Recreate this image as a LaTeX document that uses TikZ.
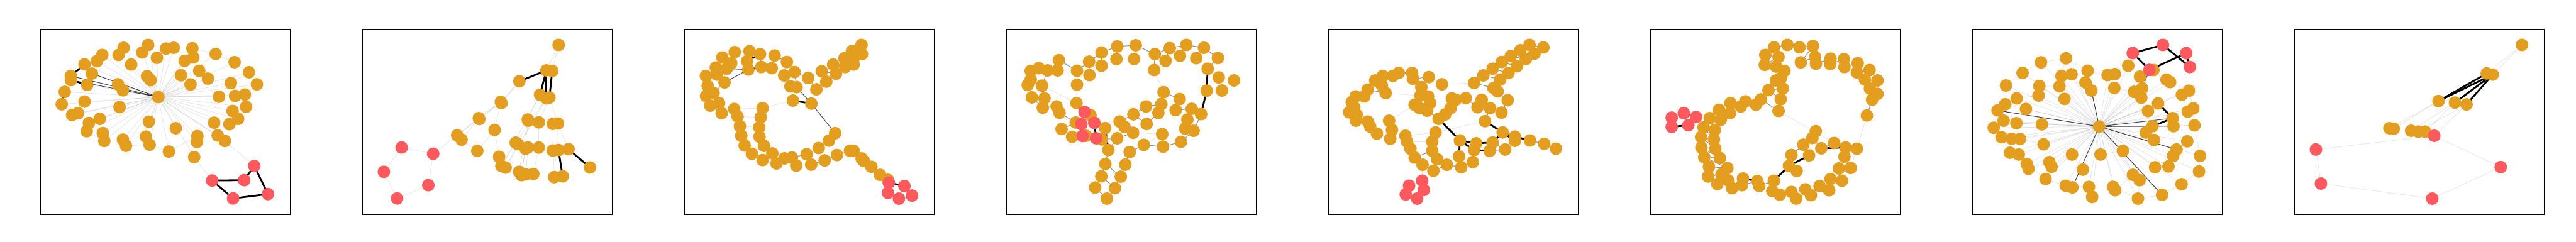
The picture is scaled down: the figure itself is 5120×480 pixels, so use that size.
\documentclass[tikz,border=0pt]{standalone}
\definecolor{myor}{RGB}{227,158,32}
\definecolor{myred}{RGB}{255,88,93}
\pgfdeclarelayer{back}
\pgfdeclarelayer{edges}
\pgfsetlayers{back,edges,main}
\tikzset{
 onode/.style={circle,fill=myor,inner sep=0pt,minimum size=25pt},
 rnode/.style={circle,fill=myred,inner sep=0pt,minimum size=25pt},
 lg/.style={draw=black,draw opacity=0.1,line width=1pt},
 mg/.style={draw=black,draw opacity=0.45,line width=1.3pt},
 dg/.style={draw=black,draw opacity=0.7,line width=1.3pt},
 bk/.style={draw=black,line width=3.5pt},
 frm/.style={draw=black,line width=1.1pt},
 panel/.style={x=0.3333pt,y=-0.3333pt}
}
\begin{document}
\begin{tikzpicture}
\begin{pgfonlayer}{back}
\fill[white] (0,0) rectangle (5120pt,-480pt);
\end{pgfonlayer}
\useasboundingbox (0,0) rectangle (5120pt,-480pt);
% ---------------- Panel 1
\begin{scope}[shift={(70pt,-45pt)},panel]
\draw[frm] (32,41) rectangle (1519,1147);
\foreach \x/\y [count=\i] in {527/150, 497/193, 673/133, 638/178, 780/155, 826/150, 726/210, 937/153, 943/208, 891/228, 1076/187, 1189/236, 1275/296, 1322/368, 400/193, 368/230, 294/249, 572/250, 338/304, 212/318, 213/343, 667/320, 688/343, 869/314, 978/287, 1030/334, 926/369, 1167/361, 310/371, 494/368, 523/404, 176/413, 734/444, 1096/442, 1192/437, 1250/429, 1257/502, 158/487, 294/471, 503/504, 1177/527, 220/551, 255/540, 385/574, 320/599, 1210/574, 1067/597, 1158/606, 678/591, 307/648, 403/659, 412/706, 838/630, 523/698, 541/735, 660/680, 682/728, 967/677, 964/712, 1088/673, 1131/706, 797/769, 948/802}
  \node[onode] (A\i) at (\x,\y) {};
\foreach \x/\y [count=\i] in {1306/855, 1055/942, 1246/940, 1388/1023, 1180/1049}
  \node[rnode] (Ar\i) at (\x,\y) {};
\begin{pgfonlayer}{edges}
\foreach \i in {1,...,32,34,35,...,63} \draw[lg] (A33.center) -- (A\i.center);
\foreach \a/\b in {3/5,5/6,6/8,8/11,11/12,12/13,13/14,2/15,15/17,1/4,28/13,36/14,47/60,58/62,62/57,55/57,50/52,42/45,38/42,60/61,14/37,37/46,63/r2,61/r1}
  \draw[lg] (A\a.center) -- (A\b.center);
\foreach \a/\b in {20/33,21/33,19/33} \draw[dg] (A\a.center) -- (A\b.center);
\foreach \a/\b in {17/20,21/29,32/38,r2/r3,r3/r1,r1/r4,r4/r5,r5/r2}
  \draw[bk] (A\a.center) -- (A\b.center);
\end{pgfonlayer}
\end{scope}
% ---------------- Panel 2
\begin{scope}[shift={(710pt,-45pt)},panel]
\draw[frm] (32,41) rectangle (1519,1147);
\foreach \x/\y [count=\i] in {1201/133, 1128/285, 1163/288, 967/350, 1090/430, 1128/452, 1146/447, 856/473, 860/480, 725/570, 728/575, 1017/578, 1020/585, 1083/595, 1166/604, 1197/602, 596/672, 622/698, 819/640, 945/716, 958/725, 1018/745, 1003/752, 1083/745, 1166/763, 1200/760, 1260/755, 716/765, 846/800, 860/855, 885/865, 966/890, 980/910, 1005/905, 1050/903, 1175/922, 1225/917, 1388/864}
  \node[onode] (B\i) at (\x,\y) {};
\foreach \x/\y [count=\i] in {265/745, 453/782, 424/970, 238/1049, 159/890}
  \node[rnode] (Br\i) at (\x,\y) {};
\begin{pgfonlayer}{edges}
\foreach \a/\b in {r1/r2,r2/r3,r3/r4,r4/r5,r5/r1,r2/17,17/10,18/10,10/8,11/9,8/4,9/4,1/2,1/3,18/28,28/19,19/8,19/29,5/12,5/30,6/20,6/31,7/14,7/16,12/22,12/32,13/33,14/24,24/35,15/25,16/36,15/36,16/27,20/30,21/31,22/34,23/33,17/8}
  \draw[lg] (B\a.center) -- (B\b.center);
\foreach \a/\b in {4/2,2/5,2/6,3/7,27/38,26/37}
  \draw[bk] (B\a.center) -- (B\b.center);
\end{pgfonlayer}
\end{scope}
% ---------------- Panel 3
\begin{scope}[shift={(1350pt,-45pt)},panel]
\draw[frm] (32,41) rectangle (1519,1147);
\foreach \x/\y [count=\i] in {1087/133, 1090/188, 1030/170, 1040/212, 985/213, 1040/250, 990/265, 918/250, 935/305, 850/290, 877/352, 818/398, 769/330, 688/295, 700/385, 663/380, 626/315, 642/235, 569/196, 552/272, 490/265, 482/188, 419/170, 331/176, 257/208, 218/268, 159/318, 170/378, 160/438, 185/495, 253/540, 328/515, 348/560, 362/618, 370/675, 390/733, 433/782, 497/820, 580/840, 627/810, 698/853, 672/805, 760/785, 787/847, 867/822, 941/790, 832/748, 893/704, 930/660, 1018/765, 1040/765, 1088/810, 1100/825, 1146/860, 1198/908, 1245/938, 405/230, 412/280, 310/242, 283/275, 225/310, 270/357, 205/420, 238/480, 497/510, 486/565, 477/625, 479/680, 505/735, 555/780, 678/465, 788/483}
  \node[onode] (C\i) at (\x,\y) {};
\foreach \x/\y [count=\i] in {1250/955, 1245/1015, 1343/975, 1310/1050, 1388/1032}
  \node[rnode] (Cr\i) at (\x,\y) {};
\begin{pgfonlayer}{edges}
\foreach \i [count=\j from 2] in {1,...,44} \draw[mg] (C\i.center) -- (C\j.center);
\foreach \a/\b in {45/46,46/50,43/47,47/48,48/49,50/51,51/52,52/53,53/54,54/55,55/56,56/r1,57/58,57/23,59/60,60/61,61/62,62/63,63/64,64/31,59/25,61/26,65/66,66/67,67/68,68/69,69/70,70/42,70/38,r1/r2,r2/r4,r4/r5}
  \draw[mg] (C\a.center) -- (C\b.center);
\foreach \a/\b in {32/65,33/66,34/67,35/68,65/71,49/50,46/48}
  \draw[lg] (C\a.center) -- (C\b.center);
\foreach \a/\b in {15/72,72/49,60/58,62/58}
  \draw[dg] (C\a.center) -- (C\b.center);
\foreach \a/\b in {71/72,58/21,57/22,7/6,r1/r3,r3/r5}
  \draw[bk] (C\a.center) -- (C\b.center);
\end{pgfonlayer}
\end{scope}
% ---------------- Panel 4
\begin{scope}[shift={(1990pt,-45pt)},panel]
\draw[frm] (32,41) rectangle (1519,1147);
\foreach \x/\y [count=\i] in {630/1050, 560/984, 678/988, 597/917, 713/919, 621/843, 740/847, 766/772, 639/760, 692/690, 600/697, 620/630, 786/657, 735/622, 706/590, 850/729, 965/740, 960/665, 1072/711, 1147/645, 1097/632, 1110/578, 1136/514, 1192/546, 1040/522, 1064/456, 955/486, 937/538, 968/415, 864/500, 867/605, 788/547, 1225/406, 1231/275, 1316/405, 1297/327, 1388/345, 1292/211, 1209/150, 1163/212, 1104/133, 1066/198, 1005/152, 980/228, 916/188, 912/283, 802/135, 792/217, 692/142, 687/218, 598/178, 598/257, 524/233, 526/313, 452/287, 452/370, 449/480, 344/224, 336/285, 276/285, 224/272, 176/288, 176/340, 158/372, 243/376, 183/446, 258/452, 248/507, 330/500, 348/538, 444/596, 360/635, 423/681, 505/675, 532/552}
  \node[onode] (D\i) at (\x,\y) {};
\foreach \x/\y [count=\i] in {497/533, 478/605, 555/598, 485/676, 566/690}
  \node[rnode] (Dr\i) at (\x,\y) {};
\begin{pgfonlayer}{edges}
\foreach \a/\b in {1/3,3/5,5/7,7/8,2/4,4/6,6/9,1/2,3/4,5/6,8/16,16/17,17/19,17/18,19/20,20/21,21/22,22/23,23/25,25/26,26/29,27/29,27/28,27/30,30/32,32/31,28/31,24/20,34/38,38/39,39/41,41/43,43/45,45/47,47/49,49/51,51/53,53/55,55/58,51/52,49/50,47/48,43/44,41/42,39/40,45/46,53/54,55/56,58/59,59/60,60/61,61/62,62/63,63/64,60/65,64/66,66/68,68/69,69/70,70/71,71/72,72/73,9/10,10/13,13/14,14/15,15/32,11/12,11/10,12/75,75/r1,r2/r4,r4/r5,73/r4,71/r2}
  \draw[mg] (D\a.center) -- (D\b.center);
\foreach \a/\b in {46/29,56/57,57/65,37/35,35/33,36/34,36/37,r3/15,13/18,44/46,50/52,48/50,40/42,52/54,54/56,18/16}
  \draw[lg] (D\a.center) -- (D\b.center);
\foreach \a/\b in {24/33,33/34,65/67,12/9,r1/r2,r1/r3,r3/r5}
  \draw[bk] (D\a.center) -- (D\b.center);
\end{pgfonlayer}
\end{scope}
% ---------------- Panel 5
\begin{scope}[shift={(2630pt,-45pt)},panel]
\draw[frm] (32,41) rectangle (1519,1147);
\foreach \x/\y [count=\i] in {1313/148, 1230/133, 1260/185, 1175/165, 1208/218, 1118/200, 1155/260, 1065/235, 1105/300, 1010/275, 1055/340, 955/315, 1015/390, 900/360, 1040/410, 1100/463, 1063/537, 995/510, 945/460, 920/505, 850/450, 790/460, 767/452, 760/510, 727/548, 688/574, 965/588, 1070/655, 1143/680, 1143/705, 1233/703, 1318/723, 1388/752, 1010/715, 993/765, 1085/757, 912/720, 900/760, 815/703, 810/798, 892/832, 823/863, 737/848, 657/884, 592/848, 545/805, 520/752, 500/710, 490/675, 680/815, 650/765, 650/710, 670/655, 400/693, 410/640, 393/585, 320/662, 280/620, 265/590, 195/585, 200/550, 155/535, 185/505, 170/475, 193/440, 245/440, 265/400, 310/345, 350/375, 372/420, 355/318, 415/318, 450/300, 530/300, 535/335, 630/325, 708/368, 585/385, 580/435, 625/440, 638/480, 545/490, 575/510, 620/525}
  \node[onode] (E\i) at (\x,\y) {};
\foreach \x/\y [count=\i] in {512/973, 492/1025, 590/943, 600/998, 560/1050}
  \node[rnode] (Er\i) at (\x,\y) {};
\begin{pgfonlayer}{edges}
\foreach \a/\b in {1/3,3/5,5/7,7/9,9/11,11/13,13/15,2/4,4/6,6/8,8/10,10/12,12/14,3/4,5/6,7/8,9/10,11/12,13/14,1/2,15/16,16/17,17/18,18/19,19/20,20/21,21/22,22/23,23/24,24/25,25/26,18/27,31/32,32/33,29/36,36/34,35/36,40/42,42/43,41/42,41/38,43/44,44/50,50/51,51/52,44/45,45/46,46/47,47/48,48/49,46/51,54/55,54/57,57/58,58/59,59/60,60/61,61/62,62/63,63/64,64/65,65/66,66/67,67/68,68/71,71/69,69/70,70/67,71/72,72/73,73/74,74/75,75/76,76/78,78/79,79/80,80/81,81/82,82/83,83/84,84/26}
  \draw[mg] (E\a.center) -- (E\b.center);
\foreach \a/\b in {77/14,70/80,56/82,49/53,53/27,48/52,80/21,r1/r2,r2/r5,r1/r3,76/77,45/r3}
  \draw[lg] (E\a.center) -- (E\b.center);
\foreach \a/\b in {6/4,26/39,27/28,28/29,29/31,28/30,39/37,39/38,37/34,38/35,39/40,34/28,53/52,56/55,r3/r4,r4/r5}
  \draw[bk] (E\a.center) -- (E\b.center);
\end{pgfonlayer}
\end{scope}
% ---------------- Panel 6
\begin{scope}[shift={(3270pt,-45pt)},panel]
\draw[frm] (32,41) rectangle (1519,1147);
\foreach \x/\y [count=\i] in {1322/554, 1353/460, 1385/425, 1340/393, 1385/345, 1310/340, 1338/283, 1262/297, 1267/242, 1188/265, 1185/218, 1103/247, 1105/215, 1018/245, 1013/205, 928/237, 1000/140, 920/147, 848/133, 768/148, 716/193, 795/205, 713/252, 780/262, 830/288, 810/330, 780/345, 820/393, 735/403, 808/457, 795/527, 690/458, 660/490, 597/470, 570/500, 508/480, 505/540, 440/520, 450/580, 385/570, 415/640, 348/625, 410/697, 333/683, 418/752, 335/745, 445/808, 352/803, 490/868, 380/860, 375/918, 455/905, 430/963, 493/940, 518/988, 583/930, 577/970, 668/945, 680/975, 767/943, 758/1005, 803/1027, 872/1010, 900/1050, 955/995, 988/1030, 1040/975, 1097/1000, 1105/933, 1173/943, 1155/870, 1225/867, 1262/752, 1188/800, 1195/745, 1127/718, 1050/750, 1017/648, 997/688, 943/728, 977/792, 872/790, 857/855, 903/885}
  \node[onode] (F\i) at (\x,\y) {};
\foreach \x/\y [count=\i] in {158/567, 158/622, 230/540, 303/563, 257/612}
  \node[rnode] (Fr\i) at (\x,\y) {};
\begin{pgfonlayer}{edges}
\foreach \i [count=\j from 2] in {1,...,70} \draw[mg] (F\i.center) -- (F\j.center);
\foreach \a/\b in {71/72,72/74,74/75,75/73,75/76,76/77,77/79,79/78,79/80,80/81,80/82}
  \draw[mg] (F\a.center) -- (F\b.center);
\foreach \a/\b in {31/76,1/73,72/73,r1/r2,r1/r3,r4/40}
  \draw[lg] (F\a.center) -- (F\b.center);
\foreach \a/\b in {r3/r4,r4/r5,r2/r5,82/83,83/81,84/83,60/83,56/58,6/4,77/75}
  \draw[bk] (F\a.center) -- (F\b.center);
\end{pgfonlayer}
\end{scope}
% ---------------- Panel 7
\begin{scope}[shift={(3910pt,-45pt)},panel]
\draw[frm] (32,41) rectangle (1519,1147);
\foreach \x/\y [count=\i] in {787/620, 440/237, 589/213, 330/300, 231/375, 562/318, 622/308, 718/287, 837/313, 880/307, 960/257, 1030/322, 1110/283, 430/378, 425/435, 550/380, 705/357, 740/405, 877/390, 995/413, 1043/392, 1038/448, 1188/340, 1210/355, 1322/406, 1280/430, 295/452, 580/455, 227/487, 181/524, 350/515, 1138/482, 1078/527, 1348/512, 1315/531, 217/585, 293/600, 445/607, 158/627, 1225/570, 1230/618, 1105/618, 1065/656, 1355/613, 205/684, 265/693, 315/694, 455/726, 1113/700, 1312/708, 255/776, 307/787, 625/787, 795/787, 928/765, 1248/757, 1228/795, 1388/795, 355/843, 365/872, 490/832, 503/860, 690/877, 1120/863, 1200/858, 1382/888, 467/933, 988/908, 1028/940, 587/973, 627/983, 726/980, 745/1040, 870/980, 882/1000, 1018/1050, 1162/1028, 1278/964}
  \node[onode] (G\i) at (\x,\y) {};
\foreach \x/\y [count=\i] in {987/182, 1167/133, 1306/182, 1328/265, 1087/282}
  \node[rnode] (Gr\i) at (\x,\y) {};
\begin{pgfonlayer}{edges}
\foreach \i in {2,...,78} \draw[lg] (G1.center) -- (G\i.center);
\foreach \a/\b in {2/3,2/4,4/5,3/6,5/29,29/30,30/39,39/45,45/51,51/59,59/67,67/70,70/72,72/74,74/76,76/77,77/78,78/66,66/58,58/44,44/34,34/25,25/23,23/r5,11/9,9/8,8/3,14/16,15/27,28/16,31/27,37/38,47/48,53/63,54/55,55/68,64/65,57/50,49/43,33/32,20/19,21/12,13/12,26/35,56/57,69/76,60/61,62/53,73/72,75/68}
  \draw[lg] (G\a.center) -- (G\b.center);
\foreach \a/\b in {1/40,1/41,1/18,1/71,1/77,1/56,1/30,r5/21}
  \draw[dg] (G\a.center) -- (G\b.center);
\foreach \a/\b in {32/40,42/40,r1/r2,r2/r4,r1/r5,r5/r3,r3/r4}
  \draw[bk] (G\a.center) -- (G\b.center);
\end{pgfonlayer}
\end{scope}
% ---------------- Panel 8
\begin{scope}[shift={(4550pt,-45pt)},panel]
\draw[frm] (32,41) rectangle (1519,1147);
\foreach \x/\y [count=\i] in {1388/133, 1178/303, 1213/310, 890/468, 988/477, 1057/488, 597/630, 623/633, 727/645, 768/650, 810/650}
  \node[onode] (H\i) at (\x,\y) {};
\foreach \x/\y [count=\i] in {865/675, 159/757, 189/960, 853/1050, 1261/862}
  \node[rnode] (Hr\i) at (\x,\y) {};
\begin{pgfonlayer}{edges}
\foreach \a/\b in {1/2,1/3,4/7,4/8,5/11,5/9,6/r1,6/10,r2/r1,r2/r3,r3/r4,r4/r5,r5/r1}
  \draw[lg] (H\a.center) -- (H\b.center);
\foreach \a/\b in {2/4,3/4,3/5,3/6}
  \draw[bk] (H\a.center) -- (H\b.center);
\end{pgfonlayer}
\end{scope}
\end{tikzpicture}
\end{document}
